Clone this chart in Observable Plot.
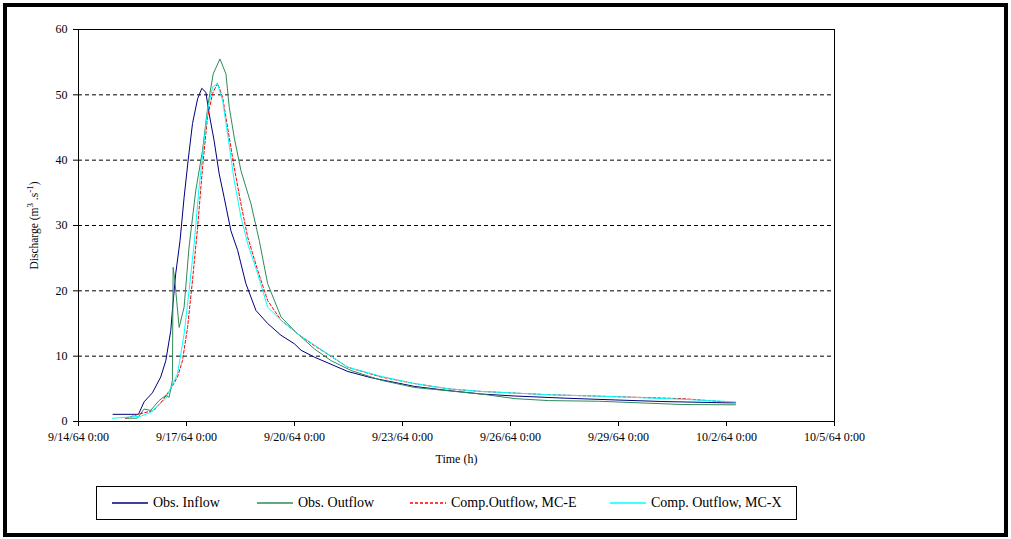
<!DOCTYPE html>
<html><head><meta charset="utf-8">
<script src="https://cdn.jsdelivr.net/npm/d3@7"></script>
<script src="https://cdn.jsdelivr.net/npm/@observablehq/plot@0.6"></script>
<style>
html,body{margin:0;padding:0;background:#fff;}
body{width:1011px;height:539px;position:relative;overflow:hidden;font-family:"Liberation Serif","Times New Roman",serif;}
#chart{position:absolute;left:0;top:0;}
#frame{position:absolute;left:3px;top:3px;width:1005px;height:534px;border:4px solid #000;box-sizing:border-box;pointer-events:none;}
#legend{position:absolute;left:96px;top:486px;width:701px;height:34px;border:1px solid #000;box-sizing:border-box;font-size:14px;color:#000;background:#fff;}
.item{position:absolute;top:0;height:32px;display:flex;align-items:center;white-space:pre;}
.item svg{margin-right:5px;display:block;}
</style></head><body>
<div id="chart"></div><div id="legend"></div><div id="frame"></div>
<script>
// ---- data (time in hours after 9/14/64 0:00, discharge in m3/s) ----
const inflowHours = [23,40,43.7,49.3,54.8,58.2,61.5,62.6,64.8,67.7,70.4,73.1,76,79.4,82.2,84.9,87.1,90.4,93.8,97.1,101.6,106.1,111.6,118.3,126.1,135,143.9,148.4,157.3,179.6,195.2,224.2,246.5,268.7,291,324.4,357.8,389.1,431.4,438];
const inflowQ     = [1.1,1.1,3.0,4.4,6.8,9.3,13.9,17,22.6,27.7,34.3,40,45.6,49.4,51,50.4,47.1,43,37.9,34.3,29.2,26.2,21.1,17,15,13.2,11.9,10.9,9.85,7.65,6.7,5.36,4.74,4.2,3.9,3.57,3.3,3.06,2.86,2.85];

const outflowHours = [31.4,39.2,43.7,48.1,53.7,58.2,60.4,62.6,63.1,64.2,67.1,70.4,73.7,78.2,82.7,86.4,89.8,94.3,98.3,100.5,103.8,108.3,115,120.5,126.1,135,143.9,157.3,168.5,181.8,201.9,224.2,246.5,268.7,291,313.3,346.7,380.2,402.4,438];
const outflowQ     = [0.5,0.5,1.9,1.7,3.2,4.0,3.7,6.3,23.6,21.6,14.4,17.5,26.7,35.4,41.5,48.6,53.2,55.5,53.2,48.1,43.5,38.4,33.3,27.7,21.1,16,13.9,11.1,9.3,7.8,6.3,5.2,4.7,4.2,3.5,3.2,3.1,2.8,2.6,2.55];

const mcEHours = [31.4,41.4,50.3,56,61.5,66,69.3,72.7,76,79.4,82.7,86,89.4,92.7,96.1,99.4,103.8,108.3,112.8,119.5,126.1,135,146.2,157.3,179.6,201.9,224.2,246.5,268.7,313.3,357.8,402.4,431.4];
const mcEQ     = [0.5,1.2,1.7,3.2,5.0,6.8,9.3,14.4,21.6,29.7,38.9,46.6,50.2,51.8,49.6,45,38.9,33.3,28.2,23.1,18.5,15.5,13.4,11.6,8.3,6.8,5.8,5.0,4.6,4.1,3.8,3.5,3.0];

const mcXHours = [22.7,41.4,48.1,58.2,66,70.4,73.7,77.1,80.4,83.8,86.4,89.4,92.7,96.1,99.4,103.8,108.3,112.8,119.5,126.1,135,146.2,157.3,179.6,201.9,224.2,246.5,268.7,313.3,357.8,402.4,438];
const mcXQ     = [0.5,0.8,1.4,3.5,7.3,13.4,20,27.2,35.9,43,48.1,51.2,51.7,49.1,44,36.9,31.3,27.2,22.6,17.5,15.5,13.4,11.7,8.3,6.9,5.8,5.0,4.6,4.1,3.8,3.4,3.0];

const seriesNames  = ["Obs. Inflow","Obs. Outflow","Comp.Outflow, MC-E","Comp. Outflow, MC-X"];
const seriesColors = ["#000080","#2E8B57","#FF0000","#00FFFF"];
const seriesDash   = [null,null,"3,2",null];

const xTickDates  = ["1964-09-14","1964-09-17","1964-09-20","1964-09-23","1964-09-26","1964-09-29","1964-10-02","1964-10-05"];
const xTickLabels = ["9/14/64 0:00","9/17/64 0:00","9/20/64 0:00","9/23/64 0:00","9/26/64 0:00","9/29/64 0:00","10/2/64 0:00","10/5/64 0:00"];
const yTicks = [0,10,20,30,40,50,60];
const gridValues = [10,20,30,40,50];
const xTitle = "Time (h)";
const yTitle = "Discharge (m3 .s-1)";

// ---- build ----
const t0 = Date.UTC(1964,8,14);
const toRows = (hs, qs) => hs.map((h,i) => ({t: new Date(t0 + h*3600e3), q: qs[i]}));
const series = [toRows(inflowHours,inflowQ), toRows(outflowHours,outflowQ), toRows(mcEHours,mcEQ), toRows(mcXHours,mcXQ)];
const tickDates = xTickDates.map(s => new Date(s + "T00:00:00Z"));
const labelOf = d => xTickLabels[tickDates.findIndex(v => +v === +d)];

const plot = Plot.plot({
  width: 1011, height: 478,
  marginLeft: 78, marginRight: 177, marginTop: 29, marginBottom: 57,
  style: {fontFamily: '"Liberation Serif","Times New Roman",serif', fontSize: "12px", color: "#000", background: "#fff", overflow: "visible"},
  x: {type: "utc", domain: [tickDates[0], tickDates[tickDates.length-1]]},
  y: {domain: [0,60]},
  marks: [
    Plot.ruleY(gridValues, {stroke: "#000", strokeDasharray: "4,3", strokeWidth: 1}),
    Plot.frame({stroke: "#000"}),
    Plot.axisX({ticks: tickDates, tickFormat: labelOf, tickSize: 5, tickPadding: 6, label: null, fontSize: 12}),
    Plot.axisY({ticks: yTicks, tickSize: 5, tickPadding: 6, label: null, fontSize: 12}),
    ...series.map((rows,i) => Plot.line(rows, {x: "t", y: "q", stroke: seriesColors[i], strokeWidth: 1, strokeDasharray: seriesDash[i] ?? undefined})),
    Plot.text([xTitle], {frameAnchor: "bottom", dy: 41, fontSize: 12}),
    Plot.text([yTitle], {frameAnchor: "left", textAnchor: "middle", dx: -44, rotate: -90, fontSize: 11.5})
  ]
});
document.getElementById("chart").append(plot);

// superscripts in the y title
d3.select(plot).selectAll("text").filter(function(){ return this.textContent === yTitle; }).each(function(){
  const t = d3.select(this); t.text(null);
  t.append("tspan").text("Discharge (m");
  t.append("tspan").attr("dy", -5).attr("font-size", 9).text("3");
  t.append("tspan").attr("dy", 5).text(" .s");
  t.append("tspan").attr("dy", -5).attr("font-size", 9).text("-1");
  t.append("tspan").attr("dy", 5).text(")");
});

// legend
const legendLeft = [15,160,313,513];
const legend = document.getElementById("legend");
seriesNames.forEach((name,i) => {
  const item = document.createElement("div");
  item.className = "item";
  item.style.left = legendLeft[i] + "px";
  const s = d3.create("svg").attr("width", 36).attr("height", 4);
  s.append("line").attr("x1",0).attr("x2",36).attr("y1",2).attr("y2",2)
    .attr("stroke", seriesColors[i]).attr("stroke-width", 1.5).attr("stroke-dasharray", seriesDash[i]);
  item.append(s.node());
  const sp = document.createElement("span"); sp.textContent = name; item.append(sp);
  legend.append(item);
});
</script></body></html>
